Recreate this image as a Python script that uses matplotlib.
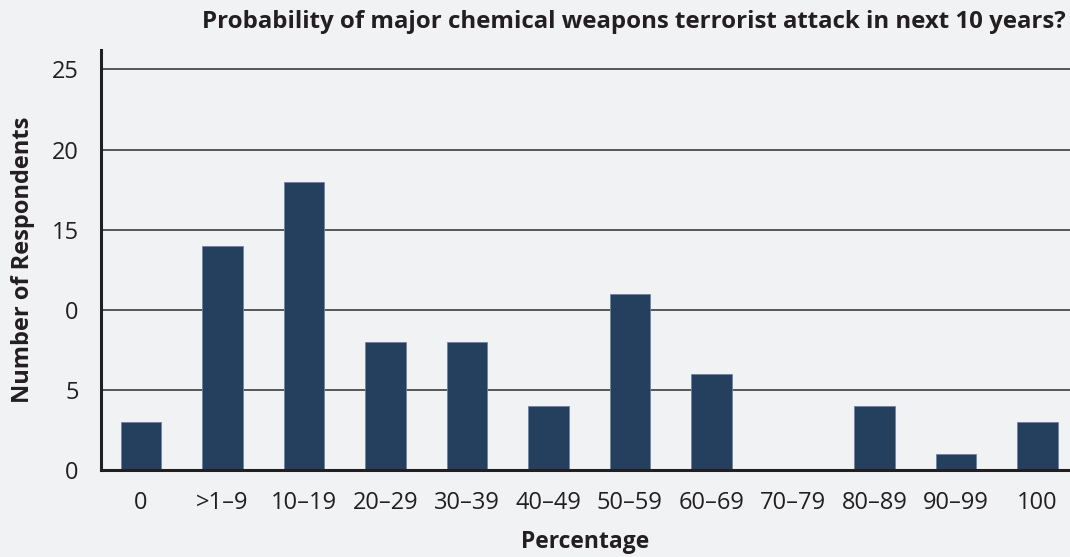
import matplotlib.pyplot as plt

categories = ['0', '>1–9', '10–19', '20–29', '30–39', '40–49', '50–59',
              '60–69', '70–79', '80–89', '90–99', '100']
respondents = [3, 14, 18, 8, 8, 4, 11, 6, 0, 4, 1, 3]
y_ticks = [0, 5, 10, 15, 20, 25]
y_tick_labels = ['0', '5', '0', '15', '20', '25']

bg = '#f1f2f4'
bar_color = '#253f5f'
ink = '#231f20'

plt.rcParams['font.family'] = ['Open Sans', 'DejaVu Sans']

fig = plt.figure(figsize=(10.7, 5.57), dpi=100, facecolor=bg)
ax = fig.add_axes([0.0944, 0.156, 0.9056, 0.754], facecolor=bg)

ax.set_axisbelow(True)
ax.yaxis.grid(True, color='#3c3c3c', linewidth=1.2)
ax.bar(range(len(categories)), respondents, width=0.5, color=bar_color,
       edgecolor='#6b84a3', linewidth=0.6, zorder=3)

ax.set_xlim(-0.49, 11.4)
ax.set_ylim(0, 26.2)
ax.set_yticks(y_ticks)
ax.set_yticklabels(y_tick_labels)
ax.set_xticks(range(len(categories)))
ax.set_xticklabels(categories)
ax.tick_params(axis='both', length=0, labelsize=17, colors=ink)
ax.tick_params(axis='x', pad=15)
ax.tick_params(axis='y', pad=16)

for s in ['top', 'right']:
    ax.spines[s].set_visible(False)
for s in ['left', 'bottom']:
    ax.spines[s].set_color(ink)
    ax.spines[s].set_linewidth(2.2)
ax.spines['bottom'].set_zorder(4)

ax.set_xlabel('Percentage', fontsize=16.5, fontweight='bold', color=ink, labelpad=11)
ax.set_ylabel('Number of Respondents', fontsize=17, fontweight='bold', color=ink, labelpad=12)
fig.text(634 / 1070, 1 - 22 / 557, 'Probability of major chemical weapons terrorist attack in next 10 years?',
         ha='center', va='center', fontsize=17.3, fontweight='bold', color=ink)

fig.savefig('out.png', dpi=100, facecolor=bg)
